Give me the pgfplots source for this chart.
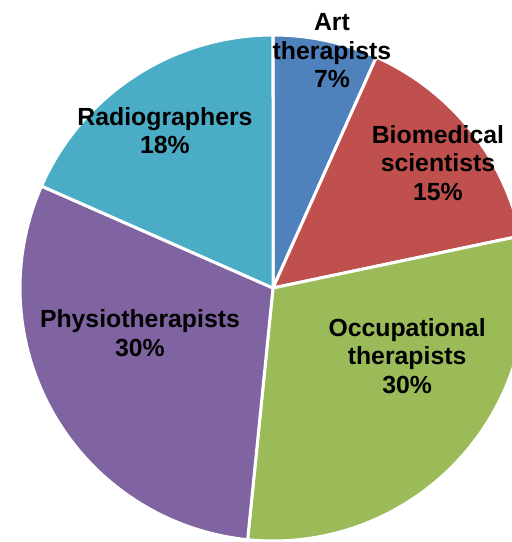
\documentclass[border=0pt]{standalone}
\usepackage{fontspec}
\setmainfont{Liberation Sans}
\usepackage{pgfplots}
\usepackage{pgfplotstable}
\pgfplotsset{compat=1.18}
\definecolor{cArt}{HTML}{4F81BD}
\definecolor{cBio}{HTML}{C0504D}
\definecolor{cOcc}{HTML}{9BBB59}
\definecolor{cPhy}{HTML}{8064A2}
\definecolor{cRad}{HTML}{4BACC6}
\pgfplotstableread{
value
6.7
15.0
29.9
30.0
18.4
}\piedata
\begin{document}
\begin{tikzpicture}
\useasboundingbox (0,0) rectangle (512bp,542bp);
\clip (0,0) rectangle (512bp,542bp);
\pgfplotstablegetelem{0}{value}\of\piedata \let\vA\pgfplotsretval
\pgfplotstablegetelem{1}{value}\of\piedata \let\vB\pgfplotsretval
\pgfplotstablegetelem{2}{value}\of\piedata \let\vC\pgfplotsretval
\pgfplotstablegetelem{3}{value}\of\piedata \let\vD\pgfplotsretval
\pgfplotstablegetelem{4}{value}\of\piedata \let\vE\pgfplotsretval
\pgfmathsetmacro\aA{90}
\pgfmathsetmacro\aB{\aA-3.6*\vA}
\pgfmathsetmacro\aC{\aB-3.6*\vB}
\pgfmathsetmacro\aD{\aC-3.6*\vC}
\pgfmathsetmacro\aE{\aD-3.6*\vD}
\pgfmathsetmacro\aF{\aE-3.6*\vE}
\begin{axis}[
  x=253bp, y=253bp,
  anchor=origin, at={(273bp,254bp)},
  xmin=-1.1, xmax=1.1, ymin=-1.1, ymax=1.1,
  hide axis, clip=false,
  every axis plot/.append style={draw=white, line width=3bp, line join=round, samples=90, variable=\t},
]
\addplot[fill=cArt, domain=\aA:\aB] ({cos(\t)},{sin(\t)}) -- (axis cs:0,0) -- cycle;
\addplot[fill=cBio, domain=\aB:\aC] ({cos(\t)},{sin(\t)}) -- (axis cs:0,0) -- cycle;
\addplot[fill=cOcc, domain=\aC:\aD] ({cos(\t)},{sin(\t)}) -- (axis cs:0,0) -- cycle;
\addplot[fill=cPhy, domain=\aD:\aE] ({cos(\t)},{sin(\t)}) -- (axis cs:0,0) -- cycle;
\addplot[fill=cRad, domain=\aE:\aF] ({cos(\t)},{sin(\t)}) -- (axis cs:0,0) -- cycle;
\begin{scope}[every node/.style={align=center, font=\fontsize{24.8bp}{28.5bp}\selectfont\bfseries}]
\node at (axis cs:0.233,0.937) {Art\\therapists\\7\%};
\node at (axis cs:0.652,0.494) {Biomedical\\scientists\\15\%};
\node at (axis cs:0.530,-0.269) {Occupational\\therapists\\30\%};
\node at (axis cs:-0.526,-0.178) {Physiotherapists\\30\%};
\node at (axis cs:-0.427,0.621) {Radiographers\\18\%};
\end{scope}
\end{axis}
\end{tikzpicture}
\end{document}
